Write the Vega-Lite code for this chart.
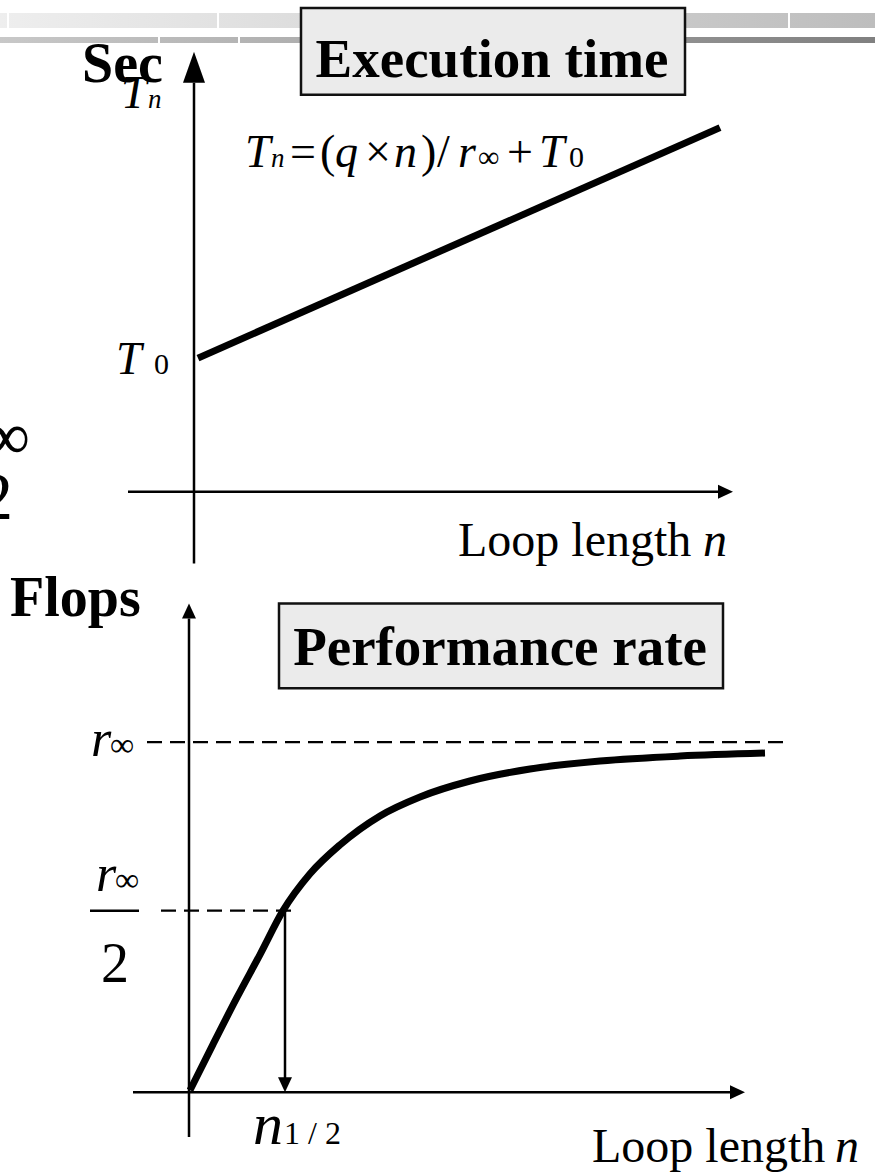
{
  "$schema": "https://vega.github.io/schema/vega-lite/v6.json",
  "width": 875,
  "height": 1172,
  "autosize": {"type": "fit", "contains": "padding"},
  "padding": 0,
  "background": "white",
  "config": {"view": {"stroke": null}},
  "datasets": {
    "bandTop": [{"x": 0, "x2": 875, "y": 13, "y2": 28}],
    "bandLow": [{"x": 0, "x2": 875, "y": 37, "y2": 43}],
    "bandBreaks": [
      {"x": 8, "y": 13, "y2": 28},
      {"x": 218, "y": 13, "y2": 28},
      {"x": 789, "y": 13, "y2": 28},
      {"x": 159, "y": 37, "y2": 43},
      {"x": 239, "y": 37, "y2": 43}
    ],
    "titleBoxes": [
      {"x": 301, "x2": 685, "y": 8, "y2": 95},
      {"x": 279, "x2": 723, "y": 605, "y2": 690}
    ],
    "titles": [
      {"x": 492, "y": 77, "label": "Execution time"},
      {"x": 500, "y": 667, "label": "Performance rate"}
    ],
    "axes": [
      {"x": 194, "y": 83, "x2": 194, "y2": 565},
      {"x": 128, "y": 493, "x2": 726, "y2": 493},
      {"x": 189, "y": 620, "x2": 189, "y2": 1140},
      {"x": 133, "y": 1095, "x2": 738, "y2": 1095},
      {"x": 285, "y": 913, "x2": 285, "y2": 1082},
      {"x": 90, "y": 913, "x2": 139, "y2": 913}
    ],
    "dashes": [
      {"x": 147, "y": 744, "x2": 785, "y2": 744},
      {"x": 161, "y": 913, "x2": 295, "y2": 913}
    ],
    "arrowBigUp": [{"x": 194, "y": 67.5}],
    "arrowUp": [{"x": 189, "y": 612.5}],
    "arrowRight": [{"x": 725.5, "y": 493}, {"x": 737.5, "y": 1095}],
    "arrowDown": [{"x": 285, "y": 1087.5}],
    "timeLine": [{"x": 198, "y": 359}, {"x": 720, "y": 128}],
    "rateCurve": [
      {"x": 190, "y": 1093},
      {"x": 213, "y": 1047},
      {"x": 237, "y": 1000},
      {"x": 260, "y": 957},
      {"x": 283, "y": 913},
      {"x": 310, "y": 876},
      {"x": 340, "y": 847},
      {"x": 380, "y": 818},
      {"x": 420, "y": 799},
      {"x": 470, "y": 783},
      {"x": 530, "y": 771},
      {"x": 600, "y": 763},
      {"x": 680, "y": 758},
      {"x": 765, "y": 755}
    ],
    "boldLabels": [
      {"x": 82, "y": 82, "label": "Sec"},
      {"x": 10, "y": 618, "label": "Flops"}
    ],
    "axisNames": [
      {"x": 458, "y": 557, "label": "Loop length"},
      {"x": 592, "y": 1165, "label": "Loop length"}
    ],
    "axisVars": [
      {"x": 703, "y": 557, "label": "n"},
      {"x": 835, "y": 1165, "label": "n"}
    ],
    "italicMain": [
      {"x": 245, "y": 167, "label": "T"},
      {"x": 335, "y": 167, "label": "q"},
      {"x": 394, "y": 167, "label": "n"},
      {"x": 458, "y": 167, "label": "r"},
      {"x": 539, "y": 167, "label": "T"},
      {"x": 121, "y": 108, "label": "T"},
      {"x": 116, "y": 375, "label": "T"}
    ],
    "italicSub": [
      {"x": 271, "y": 167, "label": "n"},
      {"x": 148, "y": 108, "label": "n"}
    ],
    "romanMain": [
      {"x": 290, "y": 167, "label": "="},
      {"x": 320, "y": 167, "label": "("},
      {"x": 365, "y": 167, "label": "×"},
      {"x": 421, "y": 167, "label": ")"},
      {"x": 437, "y": 167, "label": "/"},
      {"x": 507, "y": 167, "label": "+"}
    ],
    "romanSub": [
      {"x": 478, "y": 167, "label": "∞"},
      {"x": 569, "y": 167, "label": "0"},
      {"x": 154, "y": 375, "label": "0"}
    ],
    "rateSymbol": [
      {"x": 91, "y": 758, "label": "r"},
      {"x": 96, "y": 893, "label": "r"}
    ],
    "rateInfinity": [
      {"x": 110, "y": 758, "label": "∞"},
      {"x": 115, "y": 893, "label": "∞"}
    ],
    "halfDenominator": [{"x": 101, "y": 985, "label": "2"}],
    "halfN": [{"x": 253, "y": 1147, "label": "n"}],
    "halfSub": [{"x": 284, "y": 1147, "label": "1 / 2"}],
    "edgeGlyphs": [
      {"x": 30, "y": 460, "label": "∞"},
      {"x": 13, "y": 520, "label": "2"}
    ]
  },
  "encoding": {
    "x": {"field": "x", "type": "quantitative", "scale": {"domain": [0, 875], "nice": false, "zero": false}, "axis": null},
    "y": {"field": "y", "type": "quantitative", "scale": {"domain": [0, 1172], "nice": false, "zero": false, "reverse": true}, "axis": null}
  },
  "layer": [
    {
      "data": {"name": "bandTop"},
      "mark": {"type": "rect", "color": {"gradient": "linear", "x1": 0, "x2": 1, "y1": 0, "y2": 0, "stops": [{"offset": 0, "color": "#eeeeee"}, {"offset": 1, "color": "#bdbdbd"}]}},
      "encoding": {"x2": {"field": "x2"}, "y2": {"field": "y2"}}
    },
    {
      "data": {"name": "bandLow"},
      "mark": {"type": "rect", "color": {"gradient": "linear", "x1": 0, "x2": 1, "y1": 0, "y2": 0, "stops": [{"offset": 0, "color": "#c8c8c8"}, {"offset": 1, "color": "#808080"}]}},
      "encoding": {"x2": {"field": "x2"}, "y2": {"field": "y2"}}
    },
    {
      "data": {"name": "bandBreaks"},
      "mark": {"type": "rule", "color": "white", "strokeWidth": 2},
      "encoding": {"y2": {"field": "y2"}}
    },
    {
      "data": {"name": "titleBoxes"},
      "mark": {"type": "rect", "fill": "#ebebeb", "stroke": "#111111", "strokeWidth": 2.5},
      "encoding": {"x2": {"field": "x2"}, "y2": {"field": "y2"}}
    },
    {
      "data": {"name": "titles"},
      "mark": {"type": "text", "font": "Liberation Serif", "fontWeight": "bold", "fontSize": 55, "align": "center", "baseline": "alphabetic", "color": "black"},
      "encoding": {"text": {"field": "label"}}
    },
    {
      "data": {"name": "axes"},
      "mark": {"type": "rule", "color": "black", "strokeWidth": 2.5},
      "encoding": {"x2": {"field": "x2"}, "y2": {"field": "y2"}}
    },
    {
      "data": {"name": "dashes"},
      "mark": {"type": "rule", "color": "black", "strokeWidth": 2.2, "strokeDash": [15, 8]},
      "encoding": {"x2": {"field": "x2"}, "y2": {"field": "y2"}}
    },
    {
      "data": {"name": "arrowBigUp"},
      "mark": {"type": "point", "shape": "M0,-1L0.71,1L-0.71,1Z", "size": 961, "filled": true, "color": "black", "opacity": 1, "strokeWidth": 0}
    },
    {
      "data": {"name": "arrowUp"},
      "mark": {"type": "point", "shape": "M0,-1L0.93,1L-0.93,1Z", "size": 225, "filled": true, "color": "black", "opacity": 1, "strokeWidth": 0}
    },
    {
      "data": {"name": "arrowRight"},
      "mark": {"type": "point", "shape": "M1,0L-1,-0.93L-1,0.93Z", "size": 225, "filled": true, "color": "black", "opacity": 1, "strokeWidth": 0}
    },
    {
      "data": {"name": "arrowDown"},
      "mark": {"type": "point", "shape": "M0,1L0.93,-1L-0.93,-1Z", "size": 225, "filled": true, "color": "black", "opacity": 1, "strokeWidth": 0}
    },
    {
      "data": {"name": "timeLine"},
      "mark": {"type": "line", "color": "black", "strokeWidth": 7, "strokeCap": "butt"},
      "encoding": {"order": {"field": "x", "type": "quantitative"}}
    },
    {
      "data": {"name": "rateCurve"},
      "mark": {"type": "line", "color": "black", "strokeWidth": 7, "strokeCap": "butt", "interpolate": "monotone"},
      "encoding": {"order": {"field": "x", "type": "quantitative"}}
    },
    {
      "data": {"name": "boldLabels"},
      "mark": {"type": "text", "font": "Liberation Serif", "fontWeight": "bold", "fontSize": 56, "align": "left", "baseline": "alphabetic", "color": "black"},
      "encoding": {"text": {"field": "label"}}
    },
    {
      "data": {"name": "axisNames"},
      "mark": {"type": "text", "font": "Liberation Serif", "fontSize": 48, "align": "left", "baseline": "alphabetic", "color": "black"},
      "encoding": {"text": {"field": "label"}}
    },
    {
      "data": {"name": "axisVars"},
      "mark": {"type": "text", "font": "Liberation Serif", "fontStyle": "italic", "fontSize": 48, "align": "left", "baseline": "alphabetic", "color": "black"},
      "encoding": {"text": {"field": "label"}}
    },
    {
      "data": {"name": "italicMain"},
      "mark": {"type": "text", "font": "Liberation Serif", "fontStyle": "italic", "fontSize": 46, "align": "left", "baseline": "alphabetic", "color": "black"},
      "encoding": {"text": {"field": "label"}}
    },
    {
      "data": {"name": "italicSub"},
      "mark": {"type": "text", "font": "Liberation Serif", "fontStyle": "italic", "fontSize": 27, "align": "left", "baseline": "alphabetic", "color": "black"},
      "encoding": {"text": {"field": "label"}}
    },
    {
      "data": {"name": "romanMain"},
      "mark": {"type": "text", "font": "Liberation Serif", "fontSize": 46, "align": "left", "baseline": "alphabetic", "color": "black"},
      "encoding": {"text": {"field": "label"}}
    },
    {
      "data": {"name": "romanSub"},
      "mark": {"type": "text", "font": "Liberation Serif", "fontSize": 30, "align": "left", "baseline": "alphabetic", "color": "black"},
      "encoding": {"text": {"field": "label"}}
    },
    {
      "data": {"name": "rateSymbol"},
      "mark": {"type": "text", "font": "Liberation Serif", "fontStyle": "italic", "fontSize": 52, "align": "left", "baseline": "alphabetic", "color": "black"},
      "encoding": {"text": {"field": "label"}}
    },
    {
      "data": {"name": "rateInfinity"},
      "mark": {"type": "text", "font": "Liberation Serif", "fontSize": 34, "align": "left", "baseline": "alphabetic", "color": "black"},
      "encoding": {"text": {"field": "label"}}
    },
    {
      "data": {"name": "halfDenominator"},
      "mark": {"type": "text", "font": "Liberation Serif", "fontSize": 56, "align": "left", "baseline": "alphabetic", "color": "black"},
      "encoding": {"text": {"field": "label"}}
    },
    {
      "data": {"name": "halfN"},
      "mark": {"type": "text", "font": "Liberation Serif", "fontStyle": "italic", "fontSize": 60, "align": "left", "baseline": "alphabetic", "color": "black"},
      "encoding": {"text": {"field": "label"}}
    },
    {
      "data": {"name": "halfSub"},
      "mark": {"type": "text", "font": "Liberation Serif", "fontSize": 32, "align": "left", "baseline": "alphabetic", "color": "black"},
      "encoding": {"text": {"field": "label"}}
    },
    {
      "data": {"name": "edgeGlyphs"},
      "mark": {"type": "text", "font": "Liberation Serif", "fontSize": 68, "align": "right", "baseline": "alphabetic", "color": "black", "clip": true},
      "encoding": {"text": {"field": "label"}}
    }
  ]
}
